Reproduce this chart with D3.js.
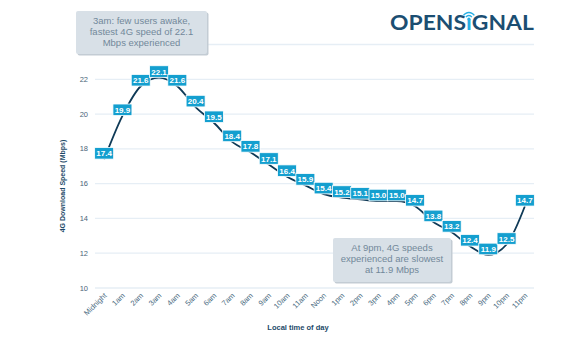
<!DOCTYPE html>
<html lang="en">
<head>
<meta charset="UTF-8">
<title>4G speed by hour</title>
<script src="https://d3js.org/d3.v7.min.js"></script>
<style>
  body { margin: 0; background: #fff; }
  svg { display: block; font-family: "Liberation Sans", Arial, sans-serif; }
</style>
</head>
<body>
<script>
var hours = ["Midnight", "1am", "2am", "3am", "4am", "5am", "6am", "7am", "8am", "9am", "10am", "11am",
    "Noon", "1pm", "2pm", "3pm", "4pm", "5pm", "6pm", "7pm", "8pm", "9pm", "10pm", "11pm"];
var speeds = [17.4, 19.9, 21.6, 22.1, 21.6, 20.4, 19.5, 18.4, 17.8, 17.1, 16.4, 15.9,
    15.4, 15.2, 15.1, 15.0, 15.0, 14.7, 13.8, 13.2, 12.4, 11.9, 12.5, 14.7];
var yTicks = [10, 12, 14, 16, 18, 20, 22, 24];
var noteTop = ["3am: few users awake,", "fastest 4G speed of 22.1", "Mbps experienced"];
var noteBottom = ["At 9pm, 4G speeds", "experienced are slowest", "at 11.9 Mbps"];

var width = 580, height = 337;
var plotL = 95, plotR = 534, plotT = 44.5, plotB = 288;

var svg = d3.select("body").append("svg")
    .attr("width", width)
    .attr("height", height);

var x = d3.scaleBand().domain(hours).range([plotL, plotR]);
var y = d3.scaleLinear().domain([10, 24]).range([plotB, plotT]);
var cx = function (h) { return x(h) + x.bandwidth() / 2; };

// gridlines + y labels
svg.selectAll("line.grid").data(yTicks).enter().append("line")
    .attr("class", "grid")
    .attr("x1", plotL).attr("x2", plotR)
    .attr("y1", d => y(d)).attr("y2", d => y(d))
    .style("stroke", "#e6eef5")
    .style("stroke-width", 1.3);

svg.selectAll("text.ytick").data(yTicks.filter(d => d < 24)).enter().append("text")
    .attr("class", "ytick")
    .attr("x", 88).attr("y", d => y(d) + 2.5)
    .attr("text-anchor", "end")
    .style("font-size", "7.5px")
    .style("fill", "#4b6478")
    .text(d => d);

// x labels, rotated
svg.selectAll("text.xtick").data(hours).enter().append("text")
    .attr("class", "xtick")
    .attr("text-anchor", "end")
    .attr("transform", d => "translate(" + (cx(d) + 3) + ",296) rotate(-45)")
    .style("font-size", "7.5px")
    .style("fill", "#4b6c82")
    .text(d => d);

// axis titles
svg.append("text")
    .attr("transform", "translate(65,186) rotate(-90)")
    .attr("text-anchor", "middle")
    .style("font-size", "7px")
    .style("font-weight", "bold")
    .style("fill", "#1d4a68")
    .text("4G Download Speed (Mbps)");

svg.append("text")
    .attr("x", 298).attr("y", 330)
    .attr("text-anchor", "middle")
    .style("font-size", "7.5px")
    .style("font-weight", "bold")
    .style("fill", "#1d4a68")
    .text("Local time of day");

// line
var line = d3.line()
    .x((d, i) => cx(hours[i]))
    .y(d => y(d))
    .curve(d3.curveMonotoneX);

svg.append("path")
    .datum(speeds)
    .attr("d", line)
    .style("fill", "none")
    .style("stroke", "#0f3a57")
    .style("stroke-width", 1.8);

// value boxes
var lab = svg.selectAll("g.lab").data(speeds).enter().append("g")
    .attr("class", "lab")
    .attr("transform", (d, i) => "translate(" + cx(hours[i]) + "," + (y(d) - 6) + ")");
lab.append("rect")
    .attr("x", -9.5).attr("y", -5.8)
    .attr("width", 19).attr("height", 11.6)
    .style("fill", "#149fcf")
    .style("stroke", "#fff")
    .style("stroke-width", 0.8);
lab.append("text")
    .attr("y", 3)
    .attr("text-anchor", "middle")
    .style("font-size", "8px")
    .style("font-weight", "bold")
    .style("fill", "#fff")
    .text(d => d.toFixed(1));

// annotation boxes
function note(lines, x0, y0, w, h) {
    svg.append("rect")
        .attr("x", x0 + 1.5).attr("y", y0 + 1.5)
        .attr("width", w).attr("height", h).attr("rx", 2)
        .style("fill", "#c3ccd4");
    svg.append("rect")
        .attr("x", x0).attr("y", y0)
        .attr("width", w).attr("height", h).attr("rx", 2)
        .style("fill", "#d8e0e7");
    svg.selectAll(null).data(lines).enter().append("text")
        .attr("x", x0 + w / 2)
        .attr("y", (d, i) => y0 + 12.5 + i * 11.2)
        .attr("text-anchor", "middle")
        .style("font-size", "9.5px")
        .style("fill", "#72889a")
        .text(d => d);
}
note(noteTop, 76, 11, 131, 43);
note(noteBottom, 333, 238, 118, 44);

// logo
var logo = svg.append("text")
    .attr("x", 390).attr("y", 30)
    .style("font-family", "Lato, 'Open Sans', sans-serif")
    .style("font-weight", "700")
    .style("font-size", "20.5px")
    .style("fill", "#1b4e72");
logo.append("tspan").text("OPENS");
logo.append("tspan").style("fill", "#26aee4").text("ı");
logo.append("tspan").text("GNAL");
var bb = logo.node().getBBox();
var sc = 144 / bb.width;
logo.attr("transform", "translate(390,30) scale(" + sc + ",1) translate(-390,-30)");
var ext = logo.node().getExtentOfChar(5);
var ix = 390 + (ext.x + ext.width / 2 - 390) * sc;
svg.append("circle").attr("cx", ix).attr("cy", 19).attr("r", 1.6).style("fill", "#26aee4");
[3.5, 6.5].forEach(function (r) {
    svg.append("path")
        .attr("d", d3.arc()({innerRadius: r - 0.7, outerRadius: r + 0.7,
            startAngle: -Math.PI / 3.2, endAngle: Math.PI / 3.2}))
        .attr("transform", "translate(" + ix + ",19)")
        .style("fill", "#26aee4");
});
</script>
</body>
</html>
